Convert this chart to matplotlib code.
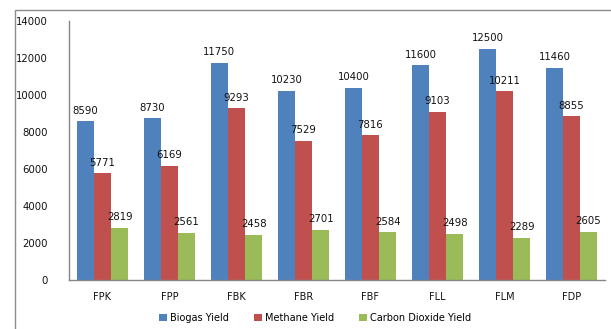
import matplotlib
matplotlib.use("Agg")
import matplotlib.pyplot as plt
import numpy as np
from matplotlib.patches import Rectangle

categories = ["FPK", "FPP", "FBK", "FBR", "FBF", "FLL", "FLM", "FDP"]
biogas = [8590, 8730, 11750, 10230, 10400, 11600, 12500, 11460]
methane = [5771, 6169, 9293, 7529, 7816, 9103, 10211, 8855]
co2 = [2819, 2561, 2458, 2701, 2584, 2498, 2289, 2605]
series_names = ["Biogas Yield", "Methane Yield", "Carbon Dioxide Yield"]
colors = ["#4F81BD", "#C0504D", "#9BBB59"]

plt.rcParams['font.family'] = ['DejaVu Sans']

W, H = 611, 329
fig = plt.figure(figsize=(W/100, H/100), dpi=100)
ax = fig.add_axes([69/W, 1-280/H, (605-69)/W, (280-21)/H])

# chart border
fig.patches.append(Rectangle((15/W, -0.2), 1.2, 1-9.5/H+0.2, transform=fig.transFigure,
                             fill=False, edgecolor="#8C8C8C", linewidth=1.0))

x = np.arange(len(categories))
bw = 0.255
for i, (vals, name, c) in enumerate(zip([biogas, methane, co2], series_names, colors)):
    pos = x + (i-1)*bw
    ax.bar(pos, vals, bw, color=c, label=name, edgecolor='none')
    for p, v in zip(pos, vals):
        ax.annotate(f"{v}", (p, v), xytext=(0, 4), textcoords="offset points",
                    ha="center", va="bottom", fontsize=7.3, color="#111111")

ax.set_xlim(-0.5, len(categories)-0.5)
ax.set_ylim(0, 14000)
ax.set_yticks(np.arange(0, 14001, 2000))
ax.set_xticks(x)
ax.set_xticklabels(categories)
for s in ["top", "right"]:
    ax.spines[s].set_visible(False)
for s in ["left", "bottom"]:
    ax.spines[s].set_color("#868686")
    ax.spines[s].set_linewidth(1.0)
ax.tick_params(axis='y', length=0, pad=15, labelsize=7.3, labelcolor="#111111")
ax.tick_params(axis='x', length=0, pad=9, labelsize=7.0, labelcolor="#111111")

fig.legend(loc="center", bbox_to_anchor=(315/W, 1-318/H), ncol=3, frameon=False,
           fontsize=7.0, handlelength=0.8, handleheight=0.8, handletextpad=0.3,
           columnspacing=2.6)

fig.savefig("out.png", dpi=100)
